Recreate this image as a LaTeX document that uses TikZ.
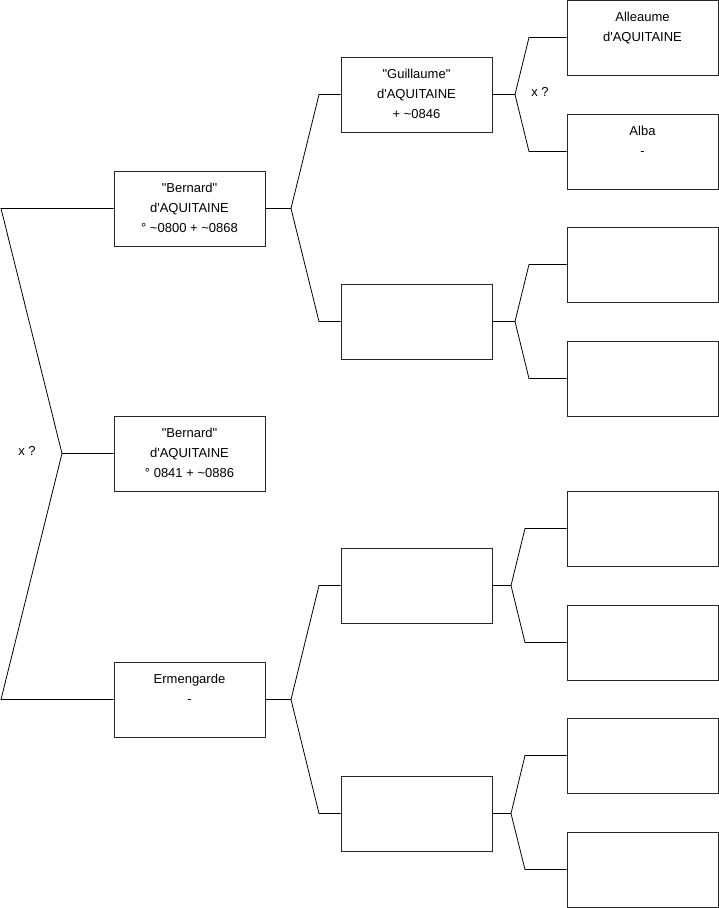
\documentclass[tikz,border=0pt]{standalone}
\usepackage{fontspec}
\setmainfont{Liberation Sans}
\newcommand{\qq}{\textquotedbl}
\newcommand{\qs}{\textquotesingle}
\begin{document}
\begin{tikzpicture}[x=1pt,y=-1pt,
  person/.style={draw=black!85, line width=0.9pt, minimum width=151pt, minimum height=75pt, inner sep=0pt},
  txt/.style={font=\fontsize{13}{20}\selectfont, align=center, inner sep=0pt},
  conn/.style={draw=black, line width=0.8pt}]
\useasboundingbox (0,0) rectangle (719,908);
% generation 1
\node[person] (g1) at (189.5,453.5) {};
% generation 2
\node[person] (b) at (189.5,208.5) {};
\node[person] (e) at (189.5,699.5) {};
% generation 3
\node[person] (c1) at (416.5,94.5) {};
\node[person] (c2) at (416.5,321.5) {};
\node[person] (c3) at (416.5,585.5) {};
\node[person] (c4) at (416.5,813.5) {};
% generation 4
\node[person] (d1) at (642.5,37.5) {};
\node[person] (d2) at (642.5,151.5) {};
\node[person] (d3) at (642.5,264.5) {};
\node[person] (d4) at (642.5,378.5) {};
\node[person] (d5) at (642.5,528.5) {};
\node[person] (d6) at (642.5,642.5) {};
\node[person] (d7) at (642.5,755.5) {};
\node[person] (d8) at (642.5,869.5) {};
% texts
\node[txt, anchor=north] (tg1) at ([yshift=-12]g1.north) {\qq Bernard\qq\\d\qs AQUITAINE\\° 0841 + \textasciitilde0886};
\node[txt, anchor=north] (tb) at ([yshift=-12]b.north) {\qq Bernard\qq\\d\qs AQUITAINE\\° \textasciitilde0800 + \textasciitilde0868};
\node[txt, anchor=north] (te) at ([yshift=-12]e.north) {Ermengarde\\-};
\node[txt, anchor=north] (tc1) at ([yshift=-12]c1.north) {\qq Guillaume\qq\\d\qs AQUITAINE\\+ \textasciitilde0846};
\node[txt, anchor=north] (td1) at ([yshift=-12]d1.north) {Alleaume\\d\qs AQUITAINE};
\node[txt, anchor=north] (td2) at ([yshift=-12]d2.north) {Alba\\-};
\node[txt] (x1) at (27,451) {x ?};
\node[txt] (x2) at (540,92) {x ?};
% connector coordinates
\coordinate (j0) at (62,453.5);
\coordinate (a0) at (1,208.5);
\coordinate (a1) at (1,699.5);
\coordinate (jb) at (291,208.5);
\coordinate (jb1) at (319,94.5);
\coordinate (jb2) at (319,321.5);
\coordinate (je) at (291,699.5);
\coordinate (je1) at (319,585.5);
\coordinate (je2) at (319,813.5);
\coordinate (k1) at (515,94.5);
\coordinate (k11) at (529,37.5);
\coordinate (k12) at (529,151.5);
\coordinate (k2) at (515,321.5);
\coordinate (k21) at (529,264.5);
\coordinate (k22) at (529,378.5);
\coordinate (k3) at (511,585.5);
\coordinate (k31) at (525,528.5);
\coordinate (k32) at (525,642.5);
\coordinate (k4) at (511,813.5);
\coordinate (k41) at (525,755.5);
\coordinate (k42) at (525,869.5);
% connectors
\draw[conn] (g1.west) -- (j0) -- (a0) -- (b.west);
\draw[conn] (j0) -- (a1) -- (e.west);
\draw[conn] (b.east) -- (jb) -- (jb1) -- (c1.west);
\draw[conn] (jb) -- (jb2) -- (c2.west);
\draw[conn] (e.east) -- (je) -- (je1) -- (c3.west);
\draw[conn] (je) -- (je2) -- (c4.west);
\draw[conn] (c1.east) -- (k1) -- (k11) -- (d1.west);
\draw[conn] (k1) -- (k12) -- (d2.west);
\draw[conn] (c2.east) -- (k2) -- (k21) -- (d3.west);
\draw[conn] (k2) -- (k22) -- (d4.west);
\draw[conn] (c3.east) -- (k3) -- (k31) -- (d5.west);
\draw[conn] (k3) -- (k32) -- (d6.west);
\draw[conn] (c4.east) -- (k4) -- (k41) -- (d7.west);
\draw[conn] (k4) -- (k42) -- (d8.west);
\end{tikzpicture}
\end{document}
